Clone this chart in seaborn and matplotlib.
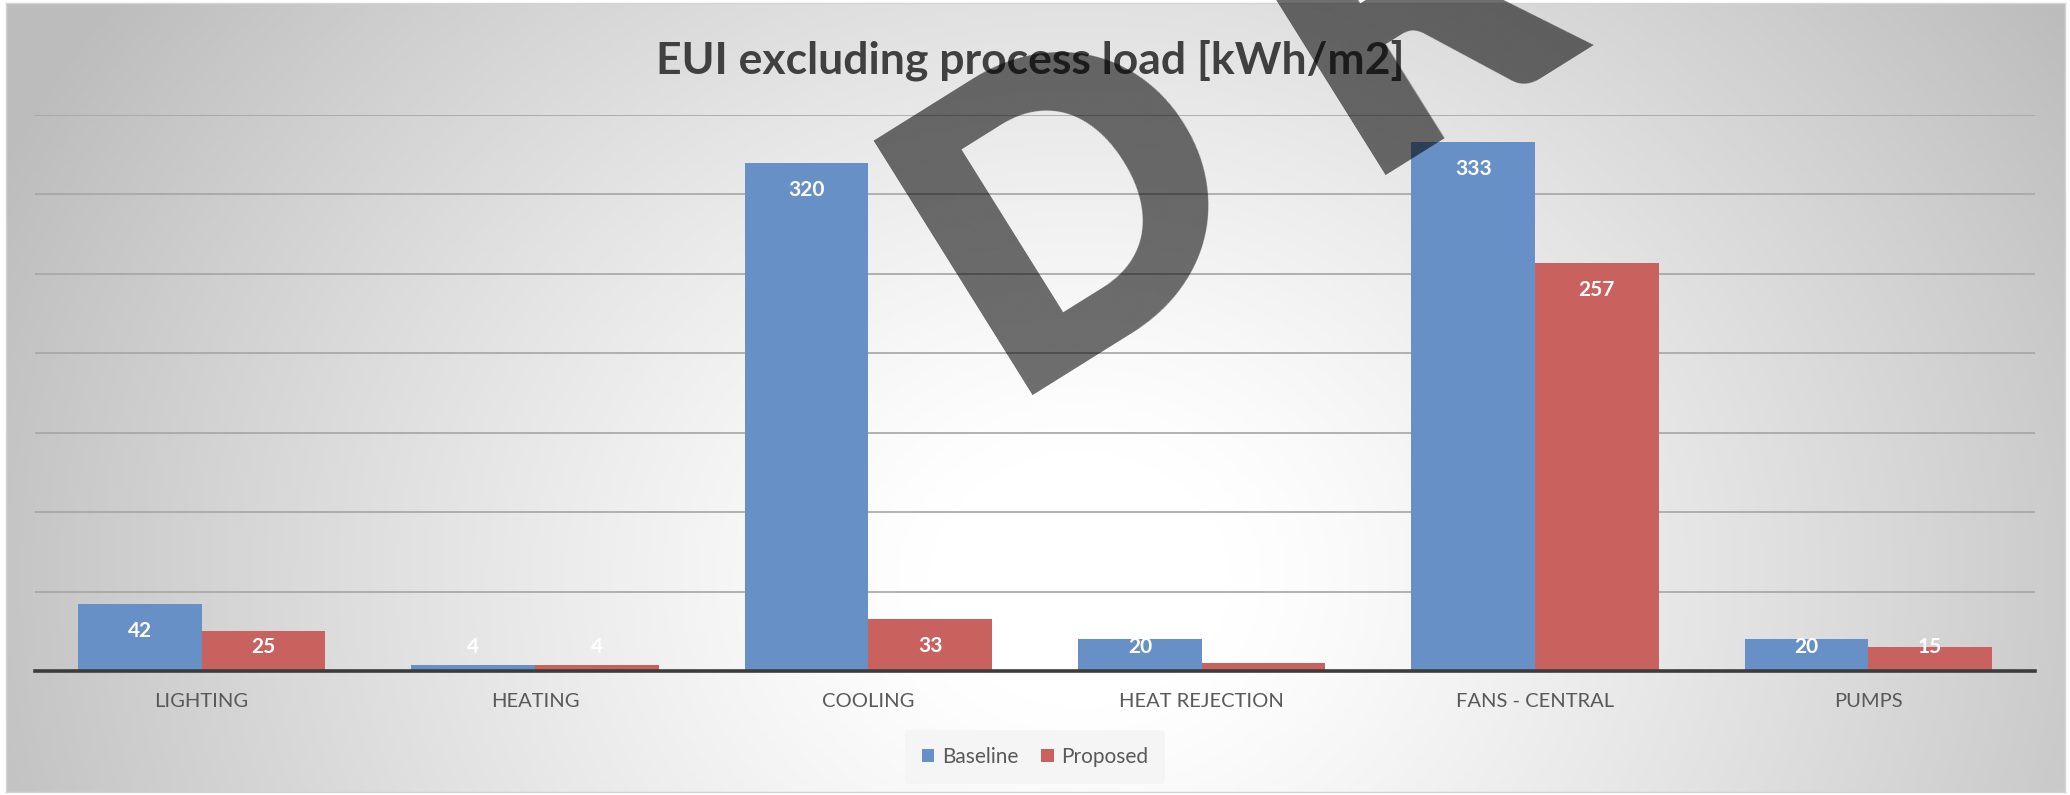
import numpy as np
import pandas as pd
import matplotlib
matplotlib.use("Agg")
import matplotlib.pyplot as plt
import seaborn as sns
from matplotlib.textpath import TextPath
from matplotlib.font_manager import FontProperties

# ---- data ----
categories = ["LIGHTING", "HEATING", "COOLING", "HEAT REJECTION", "FANS - CENTRAL", "PUMPS"]
series_names = ["Baseline", "Proposed"]
baseline = [42, 4, 320, 20, 333, 20]
proposed = [25, 4, 33, 5, 257, 15]
# which bars carry a value label
baseline_labeled = [True, True, True, True, True, True]
proposed_labeled = [True, True, True, False, True, True]

title_text = "EUI excluding process load [kWh/m2]"
watermark_text = "DRAFT"

colors = ["#6791c6", "#c9625e"]

df = pd.DataFrame({
    "category": categories * 2,
    "series": [series_names[0]] * len(categories) + [series_names[1]] * len(categories),
    "value": baseline + proposed,
})

sns.set_theme(style="white")
plt.rcParams["font.family"] = ["Lato", "DejaVu Sans"]

W, H = 2070, 795
fig = plt.figure(figsize=(W / 100, H / 100), dpi=100)
fig.patch.set_facecolor("white")

# ---- background panel with soft radial gradient ----
bg = fig.add_axes([6 / W, 3 / H, (2065 - 6) / W, (792 - 3) / H], zorder=-5)
gx = np.linspace(6, 2065, 600)
gy = np.linspace(3, 792, 240)
X, Y = np.meshgrid(gx, gy)
r = np.sqrt(((X - 1080) / 1000) ** 2 + ((Y - 580) / 850) ** 2)
v = 1 - 0.25 * np.clip(r - 0.15, 0, None) ** 1.2
v = np.clip(v, 0.74, 1)
bg.imshow(np.dstack([v, v, v]), aspect="auto", extent=[0, 1, 0, 1], origin="upper")
bg.set_xticks([])
bg.set_yticks([])
for s in bg.spines.values():
    s.set_color("#d4d4d4")
    s.set_linewidth(1.0)

# ---- main bar chart ----
ax = fig.add_axes([35 / W, 1 - 671 / H, 2000 / W, (671 - 115) / H], zorder=1)
ax.patch.set_alpha(0)

sns.barplot(data=df, x="category", y="value", hue="series", order=categories,
            hue_order=series_names, palette=colors, saturation=1, width=0.742,
            ax=ax, legend=True, zorder=3, edgecolor="none")

ax.set_xlim(-0.5, len(categories) - 0.5)
ax.set_ylim(0, 350)
ax.set_yticks(np.arange(50, 351, 50))
ax.yaxis.grid(True, color="#a5a5a5", linewidth=1.2, zorder=0)
ax.set_axisbelow(True)
ax.tick_params(axis="y", left=False, labelleft=False)
ax.tick_params(axis="x", length=0, pad=16, labelsize=14.5, colors="#595959")
for lbl in ax.get_xticklabels():
    lbl.set_color("#595959")
ax.set_xlabel("")
ax.set_ylabel("")
for name in ["left", "right", "top"]:
    ax.spines[name].set_visible(False)
ax.spines["bottom"].set_color("#3c3c3c")
ax.spines["bottom"].set_linewidth(2.6)
ax.spines["bottom"].set_zorder(4)

# value labels inside the top of each bar
for cont, vals, flags in zip(ax.containers, [baseline, proposed], [baseline_labeled, proposed_labeled]):
    for patch, val, show in zip(cont.patches, vals, flags):
        if not show:
            continue
        xc = patch.get_x() + patch.get_width() / 2
        ylab = max(val - 17, 15)
        ax.text(xc, ylab, f"{val}", ha="center", va="center", color="white",
                fontsize=15, fontweight="bold", zorder=5)

# legend
handles, labels = ax.get_legend_handles_labels()
ax.legend(handles, labels, loc="center", bbox_to_anchor=(1035 / W, 1 - 757 / H),
          bbox_transform=fig.transFigure, ncol=2, frameon=True, fontsize=15,
          handlelength=0.6, handleheight=0.6, handletextpad=0.35, columnspacing=1.1,
          facecolor="#f4f4f4", edgecolor="none", framealpha=0.8, borderpad=0.8,
          labelcolor="#595959")

# title
fig.text(1030 / W, 1 - 60 / H, title_text, ha="center", va="center",
         fontsize=32, fontweight="bold", color="#404040")

# ---- diagonal, widely tracked watermark (one text per letter) ----
wm_angle = 32.0
wm_em_px = 412.0                       # font size in pixels
wm_start = np.array([1004.0, 395.0])   # baseline start, image pixels (y down)
wm_pitch = 416.0                       # distance between letter starts along the baseline
wm_prop = FontProperties(family="Lato", weight="heavy")
wm_dir = np.array([np.cos(np.radians(wm_angle)), -np.sin(np.radians(wm_angle))])

d_ext = TextPath((0, 0), watermark_text[0], size=wm_em_px, prop=wm_prop).get_extents()
tracking = wm_pitch - (d_ext.x1 - d_ext.x0)
pos = wm_start.copy()
for ch in watermark_text:
    ext = TextPath((0, 0), ch, size=wm_em_px, prop=wm_prop).get_extents()
    fig.text(pos[0] / W, 1 - pos[1] / H, ch, rotation=wm_angle, rotation_mode="anchor",
             ha="left", va="baseline", fontsize=wm_em_px * 0.72, fontweight="heavy",
             color="black", alpha=0.57, zorder=10)
    pos = pos + wm_dir * ((ext.x1 - ext.x0) + tracking)

fig.savefig("out.png", dpi=100)
